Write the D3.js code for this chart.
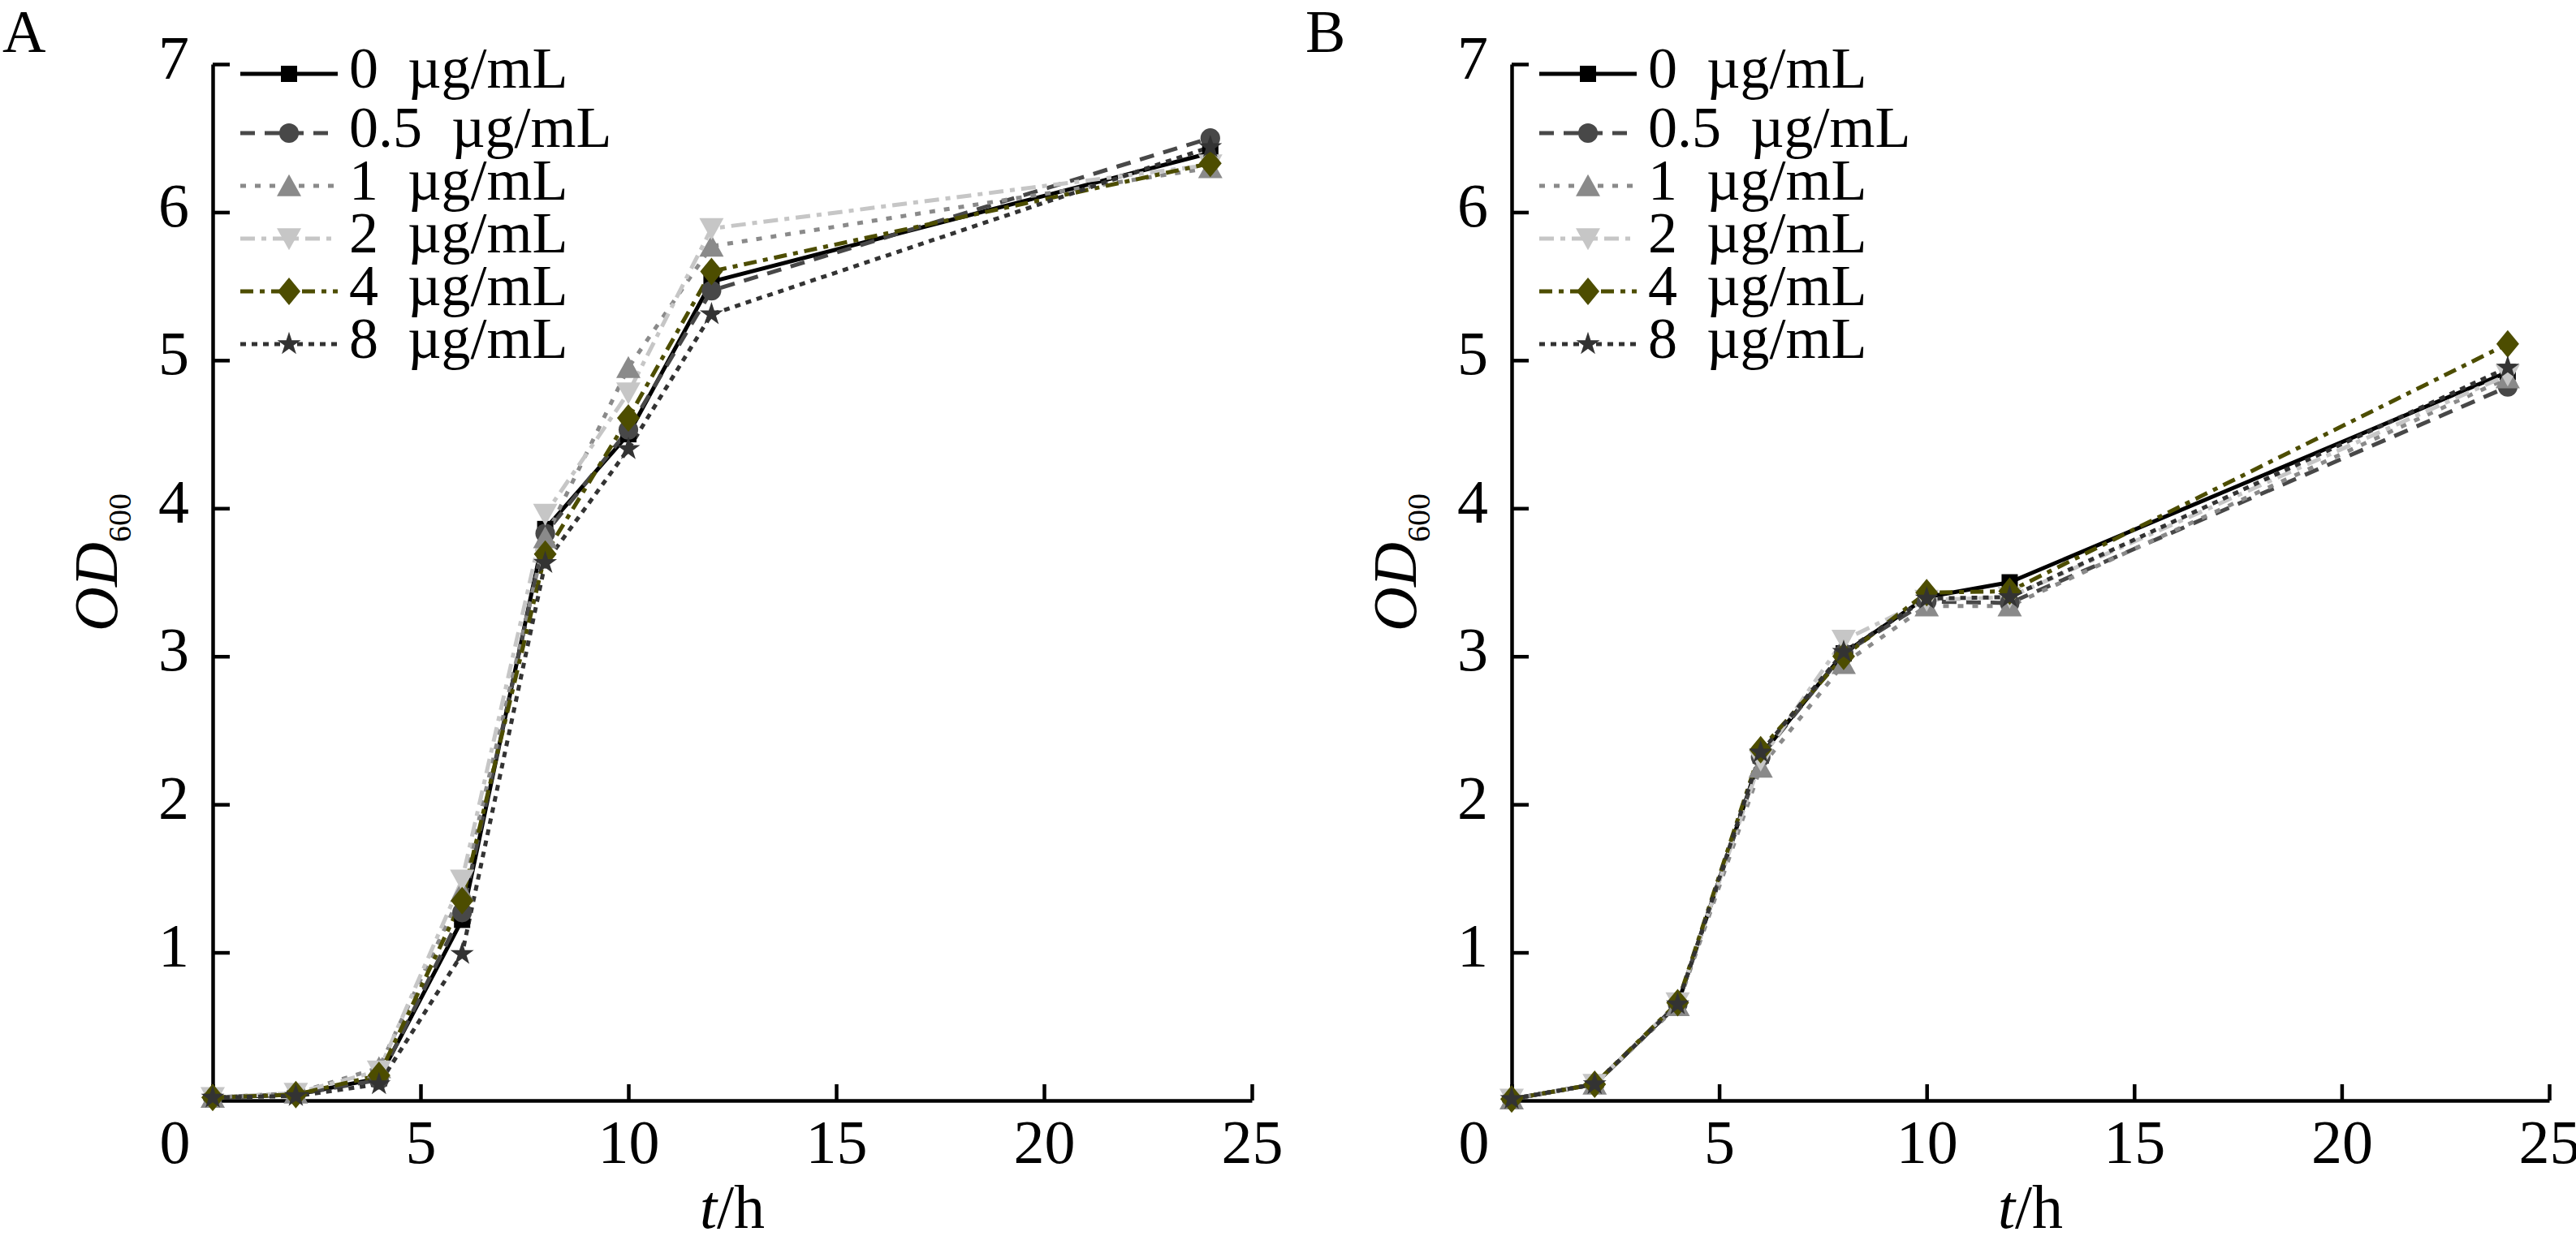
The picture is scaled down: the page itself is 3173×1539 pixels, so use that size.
<!DOCTYPE html>
<html>
<head>
<meta charset="utf-8">
<script src="https://cdn.jsdelivr.net/npm/d3@7"></script>
<style>
  html, body { margin: 0; padding: 0; background: #fff; }
  svg { display: block; font-family: "Liberation Serif", "Times New Roman", serif; }
</style>
</head>
<body>
<svg id="chart" width="3173" height="1539"></svg>
<script>
// ---------------- data ----------------
const times = [0, 2, 4, 6, 8, 10, 12, 24];
const seriesLabels = ["0  µg/mL", "0.5  µg/mL", "1  µg/mL", "2  µg/mL", "4  µg/mL", "8  µg/mL"];

// Panel A (OD600)
const odA_0   = [0.02, 0.04, 0.15, 1.22, 3.86, 4.50, 5.53, 6.40];
const odA_05  = [0.02, 0.04, 0.14, 1.27, 3.83, 4.53, 5.47, 6.50];
const odA_1   = [0.02, 0.05, 0.22, 1.41, 3.80, 4.95, 5.77, 6.30];
const odA_2   = [0.02, 0.05, 0.20, 1.49, 3.96, 4.78, 5.89, 6.32];
const odA_4   = [0.02, 0.04, 0.17, 1.35, 3.69, 4.61, 5.60, 6.33];
const odA_8   = [0.02, 0.03, 0.11, 0.99, 3.63, 4.40, 5.31, 6.44];

// Panel B (OD600)
const odB_0   = [0.01, 0.11, 0.65, 2.33, 3.02, 3.40, 3.50, 4.92];
const odB_05  = [0.01, 0.11, 0.65, 2.32, 3.02, 3.37, 3.36, 4.82];
const odB_1   = [0.01, 0.11, 0.64, 2.25, 2.95, 3.34, 3.34, 4.88];
const odB_2   = [0.01, 0.11, 0.66, 2.30, 3.11, 3.38, 3.40, 4.90];
const odB_4   = [0.01, 0.11, 0.66, 2.37, 3.00, 3.43, 3.44, 5.11];
const odB_8   = [0.01, 0.11, 0.65, 2.35, 3.03, 3.39, 3.40, 4.95];

const xTickValues = [0, 5, 10, 15, 20, 25];
const yTickValues = [1, 2, 3, 4, 5, 6, 7];
const panelLabels = ["A", "B"];

// ---------------- styles ----------------
const diamond = { draw(ctx, size) { const w = 14, h = 17; ctx.moveTo(0, -h); ctx.lineTo(w, 0); ctx.lineTo(0, h); ctx.lineTo(-w, 0); ctx.closePath(); } };
const triDown = { draw(ctx, size) { const s = 15; ctx.moveTo(-s, -s * 0.85); ctx.lineTo(s, -s * 0.85); ctx.lineTo(0, s * 0.95); ctx.closePath(); } };
const triUp   = { draw(ctx, size) { const s = 15; ctx.moveTo(-s, s * 0.85); ctx.lineTo(s, s * 0.85); ctx.lineTo(0, -s * 0.95); ctx.closePath(); } };
const styles = [
  { color: "#000000", dash: null,          sym: d3.symbolSquare, size: 400 },
  { color: "#484848", dash: "18,12",       sym: d3.symbolCircle, size: 460 },
  { color: "#8a8a8a", dash: "7,11",        sym: triUp,           size: 0 },
  { color: "#c6c6c6", dash: "18,8,6,8",    sym: triDown,         size: 0 },
  { color: "#4d4d00", dash: "16,8,6,8",    sym: diamond,         size: 0 },
  { color: "#333333", dash: "7,7",         sym: d3.symbolStar,   size: 260 }
];

// ---------------- layout ----------------
const svg = d3.select("#chart");
svg.append("rect").attr("width", 3173).attr("height", 1539).attr("fill", "#fff");

const yScale = d3.scaleLinear().domain([0, 7]).range([1356, 79]);
const panels = [
  { label: panelLabels[0], labelX: 3,    x0: 262,  x1: 1542, series: [odA_0, odA_05, odA_1, odA_2, odA_4, odA_8] },
  { label: panelLabels[1], labelX: 1608, x0: 1862, x1: 3140, series: [odB_0, odB_05, odB_1, odB_2, odB_4, odB_8] }
];

const FONT = 76;

panels.forEach(p => {
  const x = d3.scaleLinear().domain([0, 25]).range([p.x0, p.x1]);
  const g = svg.append("g");

  // panel label
  g.append("text").attr("x", p.labelX).attr("y", 64).attr("font-size", 74).text(p.label);

  // y axis
  const ya = g.append("g").attr("transform", `translate(${p.x0},0)`)
    .call(d3.axisLeft(yScale).tickValues(yTickValues).tickFormat(d3.format("d"))
      .tickSizeInner(-21).tickSizeOuter(0).tickPadding(29));
  ya.select(".domain").attr("stroke", "#000").attr("stroke-width", 4.5);
  ya.selectAll(".tick line").attr("stroke", "#000").attr("stroke-width", 4.5);
  ya.selectAll(".tick text").attr("font-size", FONT).attr("font-family", "Liberation Serif, Times New Roman, serif")
    .attr("fill", "#000").attr("dy", 17);

  // x axis
  const xa = g.append("g").attr("transform", `translate(0,${yScale(0)})`)
    .call(d3.axisBottom(x).tickValues(xTickValues).tickFormat(d3.format("d"))
      .tickSizeInner(-20).tickSizeOuter(0).tickPadding(0));
  xa.select(".domain").attr("stroke", "#000").attr("stroke-width", 4.5);
  xa.selectAll(".tick line").attr("stroke", "#000").attr("stroke-width", 4.5);
  xa.selectAll(".tick text").attr("font-size", FONT).attr("font-family", "Liberation Serif, Times New Roman, serif")
    .attr("fill", "#000").attr("y", 77).attr("dy", 0)
    .attr("dx", d => d === 0 ? -47 : 0);

  // axis titles
  const yl = g.append("text")
    .attr("transform", `translate(${p.x0 - 118},693) rotate(-90)`)
    .attr("text-anchor", "middle").attr("font-size", FONT);
  yl.append("tspan").attr("font-style", "italic").text("OD");
  yl.append("tspan").attr("font-size", 40).attr("dy", 17).text("600");

  const xl = g.append("text")
    .attr("x", (p.x0 + p.x1) / 2).attr("y", 1513)
    .attr("text-anchor", "middle").attr("font-size", FONT);
  xl.append("tspan").attr("font-style", "italic").text("t");
  xl.append("tspan").text("/h");

  // lines
  const line = d3.line().x((d, i) => x(times[i])).y(d => yScale(d));
  p.series.forEach((vals, si) => {
    const st = styles[si];
    g.append("path").datum(vals)
      .attr("d", line)
      .attr("fill", "none")
      .attr("stroke", st.color)
      .attr("stroke-width", 5)
      .attr("stroke-dasharray", st.dash)
      .attr("stroke-linejoin", "round");
  });
  // markers
  p.series.forEach((vals, si) => {
    const st = styles[si];
    g.append("g").selectAll("path").data(vals).join("path")
      .attr("transform", (d, i) => `translate(${x(times[i])},${yScale(d)})`)
      .attr("d", d3.symbol().type(st.sym).size(st.size))
      .attr("fill", st.color);
  });

  // legend
  const legRows = [91, 164, 229, 294, 359, 424];
  seriesLabels.forEach((lab, si) => {
    const st = styles[si];
    const ly = legRows[si];
    const lg = g.append("g");
    lg.append("line")
      .attr("x1", p.x0 + 34).attr("x2", p.x0 + 154)
      .attr("y1", ly).attr("y2", ly)
      .attr("stroke", st.color).attr("stroke-width", 5)
      .attr("stroke-dasharray", st.dash);
    lg.append("path")
      .attr("transform", `translate(${p.x0 + 94},${ly})`)
      .attr("d", d3.symbol().type(st.sym).size(st.size))
      .attr("fill", st.color);
    lg.append("text")
      .attr("x", p.x0 + 168).attr("y", ly + 17)
      .attr("font-size", 72)
      .style("white-space", "pre")
      .attr("xml:space", "preserve")
      .text(lab);
  });
});
</script>
</body>
</html>
